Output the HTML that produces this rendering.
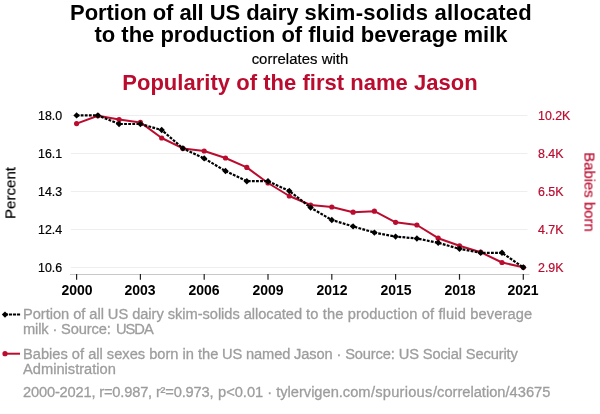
<!DOCTYPE html>
<html><head><meta charset="utf-8"><title>chart</title>
<style>
html,body{margin:0;padding:0;background:#fff}
body{width:600px;height:414px;position:relative;overflow:hidden;font-family:"Liberation Sans",sans-serif;color:#000}
.t{position:absolute;white-space:nowrap;line-height:1;will-change:transform}
.ttl{left:0;width:600px;text-align:center;font-weight:bold;font-size:22px}
.yl{font-size:12.4px;right:538.3px;text-align:right;-webkit-text-stroke:0.2px #000}
.yr{font-size:12.4px;left:538.2px;color:#ba0c2f;-webkit-text-stroke:0.2px #ba0c2f}
.xl{font-size:14px;font-weight:bold;width:60px;text-align:center;top:283px}
.lg{font-size:14.67px;color:#9d9d9d;left:22.5px;-webkit-text-stroke:0.3px #9d9d9d}
</style></head><body>
<svg width="600" height="414" style="position:absolute;left:0;top:0">
<line x1="71" x2="527.5" y1="115.5" y2="115.5" stroke="#eeeeee" stroke-width="1"/>
<line x1="71" x2="527.5" y1="153.5" y2="153.5" stroke="#eeeeee" stroke-width="1"/>
<line x1="71" x2="527.5" y1="191.5" y2="191.5" stroke="#eeeeee" stroke-width="1"/>
<line x1="71" x2="527.5" y1="229.5" y2="229.5" stroke="#eeeeee" stroke-width="1"/>
<line x1="71" x2="527.5" y1="267.5" y2="267.5" stroke="#eeeeee" stroke-width="1"/>
<line x1="70" x2="529.5" y1="274.5" y2="274.5" stroke="#c9c9c9" stroke-width="1"/>
<line x1="76.6" x2="76.6" y1="274" y2="279.7" stroke="#222" stroke-width="1.2"/>
<line x1="140.4" x2="140.4" y1="274" y2="279.7" stroke="#222" stroke-width="1.2"/>
<line x1="204.2" x2="204.2" y1="274" y2="279.7" stroke="#222" stroke-width="1.2"/>
<line x1="268.0" x2="268.0" y1="274" y2="279.7" stroke="#222" stroke-width="1.2"/>
<line x1="331.8" x2="331.8" y1="274" y2="279.7" stroke="#222" stroke-width="1.2"/>
<line x1="395.6" x2="395.6" y1="274" y2="279.7" stroke="#222" stroke-width="1.2"/>
<line x1="459.5" x2="459.5" y1="274" y2="279.7" stroke="#222" stroke-width="1.2"/>
<line x1="523.3" x2="523.3" y1="274" y2="279.7" stroke="#222" stroke-width="1.2"/>
<polyline points="76.6,123.6 97.9,115.8 119.1,119.6 140.4,122.4 161.7,138.0 182.9,148.4 204.2,151.0 225.5,158.0 246.8,167.4 268.0,183.0 289.3,196.0 310.6,205.0 331.8,207.0 353.1,212.2 374.4,211.2 395.6,222.3 416.9,225.0 438.2,238.2 459.5,245.8 480.7,252.2 502.0,262.5 523.3,267.3" fill="none" stroke="#ba0c2f" stroke-width="2" stroke-linejoin="round"/>
<circle cx="76.6" cy="123.6" r="2.6" fill="#ba0c2f"/>
<circle cx="97.9" cy="115.8" r="2.6" fill="#ba0c2f"/>
<circle cx="119.1" cy="119.6" r="2.6" fill="#ba0c2f"/>
<circle cx="140.4" cy="122.4" r="2.6" fill="#ba0c2f"/>
<circle cx="161.7" cy="138.0" r="2.6" fill="#ba0c2f"/>
<circle cx="182.9" cy="148.4" r="2.6" fill="#ba0c2f"/>
<circle cx="204.2" cy="151.0" r="2.6" fill="#ba0c2f"/>
<circle cx="225.5" cy="158.0" r="2.6" fill="#ba0c2f"/>
<circle cx="246.8" cy="167.4" r="2.6" fill="#ba0c2f"/>
<circle cx="268.0" cy="183.0" r="2.6" fill="#ba0c2f"/>
<circle cx="289.3" cy="196.0" r="2.6" fill="#ba0c2f"/>
<circle cx="310.6" cy="205.0" r="2.6" fill="#ba0c2f"/>
<circle cx="331.8" cy="207.0" r="2.6" fill="#ba0c2f"/>
<circle cx="353.1" cy="212.2" r="2.6" fill="#ba0c2f"/>
<circle cx="374.4" cy="211.2" r="2.6" fill="#ba0c2f"/>
<circle cx="395.6" cy="222.3" r="2.6" fill="#ba0c2f"/>
<circle cx="416.9" cy="225.0" r="2.6" fill="#ba0c2f"/>
<circle cx="438.2" cy="238.2" r="2.6" fill="#ba0c2f"/>
<circle cx="459.5" cy="245.8" r="2.6" fill="#ba0c2f"/>
<circle cx="480.7" cy="252.2" r="2.6" fill="#ba0c2f"/>
<circle cx="502.0" cy="262.5" r="2.6" fill="#ba0c2f"/>
<circle cx="523.3" cy="267.3" r="2.6" fill="#ba0c2f"/>
<polyline points="76.6,115.4 97.9,115.4 119.1,124.0 140.4,124.0 161.7,130.0 182.9,148.4 204.2,158.4 225.5,171.0 246.8,181.2 268.0,181.2 289.3,191.0 310.6,207.6 331.8,220.0 353.1,226.4 374.4,232.6 395.6,236.6 416.9,238.5 438.2,242.8 459.5,248.8 480.7,252.8 502.0,252.8 523.3,267.4" fill="none" stroke="#000" stroke-width="2.2" stroke-dasharray="2.8,1.3"/>
<path d="M73.4,115.4L76.6,112.2L79.8,115.4L76.6,118.6Z" fill="#000"/>
<path d="M94.7,115.4L97.9,112.2L101.1,115.4L97.9,118.6Z" fill="#000"/>
<path d="M115.9,124.0L119.1,120.8L122.3,124.0L119.1,127.2Z" fill="#000"/>
<path d="M137.2,124.0L140.4,120.8L143.6,124.0L140.4,127.2Z" fill="#000"/>
<path d="M158.5,130.0L161.7,126.8L164.9,130.0L161.7,133.2Z" fill="#000"/>
<path d="M179.8,148.4L182.9,145.2L186.1,148.4L182.9,151.6Z" fill="#000"/>
<path d="M201.0,158.4L204.2,155.2L207.4,158.4L204.2,161.6Z" fill="#000"/>
<path d="M222.3,171.0L225.5,167.8L228.7,171.0L225.5,174.2Z" fill="#000"/>
<path d="M243.6,181.2L246.8,178.0L250.0,181.2L246.8,184.4Z" fill="#000"/>
<path d="M264.8,181.2L268.0,178.0L271.2,181.2L268.0,184.4Z" fill="#000"/>
<path d="M286.1,191.0L289.3,187.8L292.5,191.0L289.3,194.2Z" fill="#000"/>
<path d="M307.4,207.6L310.6,204.4L313.8,207.6L310.6,210.8Z" fill="#000"/>
<path d="M328.6,220.0L331.8,216.8L335.0,220.0L331.8,223.2Z" fill="#000"/>
<path d="M349.9,226.4L353.1,223.2L356.3,226.4L353.1,229.6Z" fill="#000"/>
<path d="M371.2,232.6L374.4,229.4L377.6,232.6L374.4,235.8Z" fill="#000"/>
<path d="M392.4,236.6L395.6,233.4L398.8,236.6L395.6,239.8Z" fill="#000"/>
<path d="M413.7,238.5L416.9,235.3L420.1,238.5L416.9,241.7Z" fill="#000"/>
<path d="M435.0,242.8L438.2,239.6L441.4,242.8L438.2,245.9Z" fill="#000"/>
<path d="M456.3,248.8L459.5,245.6L462.7,248.8L459.5,251.9Z" fill="#000"/>
<path d="M477.5,252.8L480.7,249.6L483.9,252.8L480.7,255.9Z" fill="#000"/>
<path d="M498.8,252.8L502.0,249.6L505.2,252.8L502.0,255.9Z" fill="#000"/>
<path d="M520.1,267.4L523.3,264.2L526.5,267.4L523.3,270.6Z" fill="#000"/>
<line x1="5" x2="20.1" y1="314.6" y2="314.6" stroke="#000" stroke-width="2" stroke-dasharray="3.1,0.9"/>
<path d="M1.8,314.6L5,311.4L8.2,314.6L5,317.8Z" fill="#000"/>
<line x1="5" x2="20" y1="353.7" y2="353.7" stroke="#ba0c2f" stroke-width="2"/>
<circle cx="5" cy="353.7" r="2.6" fill="#ba0c2f"/>
</svg>
<div class="t ttl" style="top:1.6px;left:0.6px"><span style="letter-spacing:-0.06px">Portion of all US dairy </span><span style="letter-spacing:0.23px">skim-solids allocated</span></div>
<div class="t ttl" style="top:23.7px;left:0.6px">to the production of fluid beverage milk</div>
<div class="t" style="left:0;width:600px;text-align:center;font-size:14.9px;top:52px;letter-spacing:0.05px;-webkit-text-stroke:0.2px #000">correlates with</div>
<div class="t ttl" style="top:71.7px;left:0.3px;letter-spacing:0.03px;color:#ba0c2f">Popularity of the first name Jason</div>
<div class="t yl" style="top:109.9px">18.0</div>
<div class="t yr" style="top:109.9px">10.2K</div>
<div class="t yl" style="top:147.9px;right:537.5px">16.1</div>
<div class="t yr" style="top:147.9px">8.4K</div>
<div class="t yl" style="top:185.9px">14.3</div>
<div class="t yr" style="top:185.9px">6.5K</div>
<div class="t yl" style="top:223.9px">12.4</div>
<div class="t yr" style="top:223.9px">4.7K</div>
<div class="t yl" style="top:261.9px">10.6</div>
<div class="t yr" style="top:261.9px">2.9K</div>
<div class="t xl" style="left:46.6px">2000</div>
<div class="t xl" style="left:110.4px">2003</div>
<div class="t xl" style="left:174.2px">2006</div>
<div class="t xl" style="left:238.0px">2009</div>
<div class="t xl" style="left:301.8px">2012</div>
<div class="t xl" style="left:365.6px">2015</div>
<div class="t xl" style="left:429.5px">2018</div>
<div class="t xl" style="left:493.3px">2021</div>
<div class="t" style="left:10.0px;top:192.7px;font-size:15.1px;-webkit-text-stroke:0.2px #000;transform:translate(-50%,-50%) rotate(-90deg)">Percent</div>
<div class="t" style="left:588.9px;top:191.7px;font-size:14.9px;color:#ba0c2f;-webkit-text-stroke:0.2px #ba0c2f;transform:translate(-50%,-50%) rotate(90deg)">Babies born</div>
<div class="t lg" style="top:306.5px;left:22.5px;letter-spacing:-0.045px">Portion of all US dairy skim-solids allocated</div>
<div class="t lg" style="top:306.5px;left:305.5px;letter-spacing:0.135px">to the production of fluid beverage</div>
<div class="t lg" style="top:322px;left:23.1px;letter-spacing:-0.14px">milk · Source:</div>
<div class="t lg" style="top:322px;left:115.81px;letter-spacing:-1.02px">USDA</div>
<div class="t lg" style="top:346.5px;left:23.4px;letter-spacing:-0.005px">Babies of all sexes born in the</div>
<div class="t lg" style="top:346.5px;left:222.22px;letter-spacing:-0.133px">US named Jason · Source: US Social Security</div>
<div class="t lg" style="top:362px;left:22.5px">Administration</div>
<div class="t lg" style="top:385.3px;left:23.1px;letter-spacing:-0.18px">2000-2021, r=0.987, r²=0.973,</div>
<div class="t lg" style="top:385.3px;left:217.74px;letter-spacing:-0.01px">p&lt;0.01 · tylervigen.com</div>
<div class="t lg" style="top:385.3px;left:370.97px;letter-spacing:0.23px">/spurious</div>
<div class="t lg" style="top:385.3px;left:432.59px">/correlation/43675</div>

</body></html>
